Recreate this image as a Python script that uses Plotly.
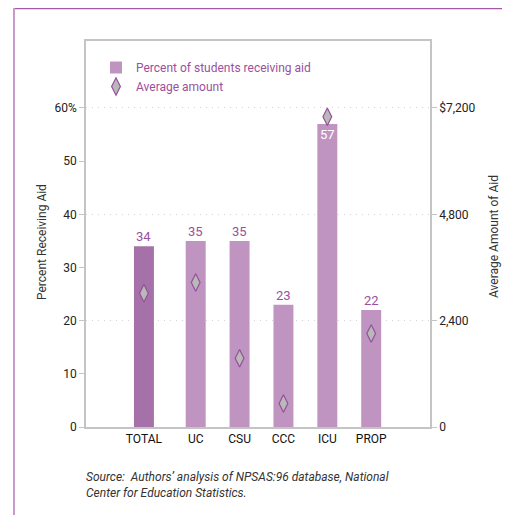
import plotly.graph_objects as go

# ---- data ----
categories = ["TOTAL", "UC", "CSU", "CCC", "ICU", "PROP"]
percent_receiving = [34, 35, 35, 23, 57, 22]
average_amount = [3020, 3260, 1550, 530, 7000, 2110]
left_ticks = [0, 10, 20, 30, 40, 50, 60]
left_ticklabels = ["0", "10", "20", "30", "40", "50", "60%"]
right_ticks = [0, 2400, 4800, 7200]
right_ticklabels = ["0", "2,400", "4,800", "$7,200"]

# ---- layout helpers (page coords; the page body has an 8px margin) ----
OFF = 8
W, H = 510 - OFF, 515 - OFF
PL, PR, PT, PB = 86, 430, 41, 427   # plot box in page pixels
ML, MT = PL - OFF, PT - OFF
MR, MB = W - (PR - OFF), H - (PB - OFF)
PW, PH = PR - PL, PB - PT


def px(x):
    return (x - PL) / PW


def py(y):
    return (PB - y) / PH


# positions: TOTAL set apart from the sectors
pos = [0.0] + [1.18 + i for i in range(len(categories) - 1)]
ymax = 72.6
scale = 120  # $ per percentage point on the right axis

dark = "#a670a8"
light = "#bf94c0"
purple_txt = "#9b4f9e"

fig = go.Figure()
fig.add_trace(go.Bar(
    x=pos[:1], y=percent_receiving[:1], width=0.455,
    marker=dict(color=dark, line=dict(width=0)),
    showlegend=False, hoverinfo="skip"))
fig.add_trace(go.Bar(
    x=pos[1:], y=percent_receiving[1:], width=0.455,
    marker=dict(color=light, line=dict(width=0)),
    name="Percent of students receiving aid"))
fig.add_trace(go.Scatter(
    x=pos, y=average_amount, yaxis="y2", mode="markers",
    marker=dict(symbol="diamond-tall", size=12.5, color="#b9b9b9",
                line=dict(color="#94509a", width=1.2)),
    name="Average amount"))

annotations = []
for p, v in zip(pos, percent_receiving):
    if v > 50:
        annotations.append(dict(x=p, y=v, xref="x", yref="y", text=str(v),
                                showarrow=False, yanchor="top", yshift=-1,
                                font=dict(color="white", size=13, family="Roboto")))
    else:
        annotations.append(dict(x=p, y=v, xref="x", yref="y", text=str(v),
                                showarrow=False, yanchor="bottom", yshift=0,
                                font=dict(color=purple_txt, size=13, family="Roboto")))

annotations += [
    dict(x=px(42), y=py(242), xref="paper", yref="paper", text="Percent Receiving Aid",
         xanchor="center", yanchor="middle",
         textangle=-90, showarrow=False, font=dict(size=12, color="#333", family="Roboto")),
    dict(x=px(494), y=py(237), xref="paper", yref="paper", text="Average Amount of Aid",
         xanchor="center", yanchor="middle",
         textangle=-90, showarrow=False, font=dict(size=12, color="#333", family="Roboto")),
    dict(x=px(84), y=py(468), xref="paper", yref="paper", xanchor="left", yanchor="top",
         align="left", showarrow=False,
         text="<i>Source:  Authors\u2019 analysis of NPSAS:96 database, National<br>Center for Education Statistics.</i>",
         font=dict(size=12, color="#333", family="Roboto")),
]

shapes = [
    dict(type="line", xref="paper", yref="paper", x0=px(13), x1=px(512), y0=py(8.5), y1=py(8.5),
         line=dict(color="#a557a8", width=1.5)),
    dict(type="line", xref="paper", yref="paper", x0=px(14), x1=px(14), y0=py(8), y1=py(520),
         line=dict(color="#c99bca", width=2)),
]

axis_line = "#c4c4c4"
fig.update_layout(
    width=W, height=H,
    margin=dict(l=ML, r=MR, t=MT, b=MB, autoexpand=False),
    paper_bgcolor="white", plot_bgcolor="white",
    barmode="overlay",
    font=dict(family="Roboto", size=12, color="#222"),
    xaxis=dict(range=[-1.32, 6.52], tickvals=pos, ticktext=categories,
               showline=True, mirror=True, linecolor=axis_line, linewidth=1.5,
               showgrid=False, zeroline=False, ticks="", fixedrange=True,
               tickfont=dict(size=12, color="#111")),
    yaxis=dict(range=[0, ymax], tickvals=left_ticks, ticktext=left_ticklabels,
               showline=True, linecolor=axis_line, linewidth=1.5, showgrid=False,
               zeroline=False, ticks="outside", ticklen=5, tickcolor=axis_line,
               tickfont=dict(size=12, color="#222")),
    yaxis2=dict(range=[0, ymax * scale], tickvals=right_ticks, ticktext=right_ticklabels,
                overlaying="y", side="right", showline=True, linecolor=axis_line,
                linewidth=1.5, showgrid=True, gridcolor="#d4d4d4", griddash="1px,5px",
                gridwidth=1, zeroline=False, ticks="outside", ticklen=5,
                tickcolor=axis_line, tickfont=dict(size=12, color="#222")),
    legend=dict(x=px(96), y=py(53), xanchor="left", yanchor="top",
                bgcolor="rgba(0,0,0,0)", font=dict(size=12, color=purple_txt),
                tracegroupgap=0, itemwidth=30),
    annotations=annotations,
    shapes=shapes,
)

fig.write_html("out.html")
